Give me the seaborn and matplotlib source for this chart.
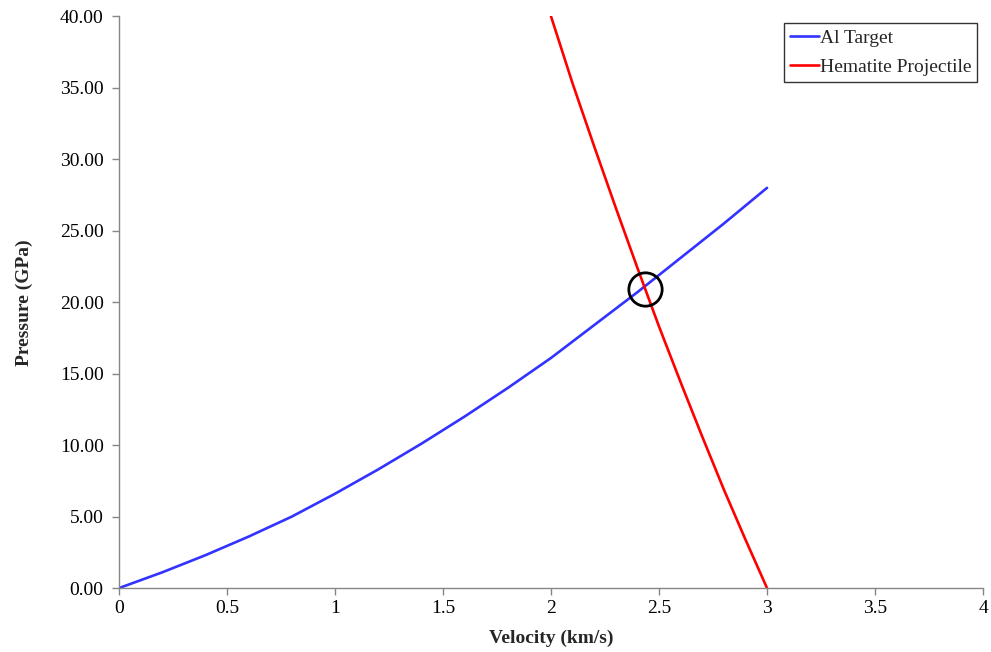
import numpy as np
import pandas as pd
import seaborn as sns
import matplotlib.pyplot as plt
from matplotlib.ticker import FormatStrFormatter, FuncFormatter

# values
al_velocity = [0.0, 0.2, 0.4, 0.6, 0.8, 1.0, 1.2, 1.4, 1.6, 1.8, 2.0, 2.2, 2.4, 2.6, 2.8, 3.0]
al_pressure = [0.0, 1.1, 2.3, 3.6, 5.0, 6.6, 8.3, 10.1, 12.0, 14.0, 16.1, 18.4, 20.7, 23.1, 25.5, 28.0]

hem_velocity = [2.0, 2.1, 2.2, 2.3, 2.4, 2.5, 2.6, 2.7, 2.8, 2.9, 3.0]
hem_pressure = [40.0, 35.3, 30.9, 26.6, 22.4, 18.3, 14.4, 10.6, 6.9, 3.4, 0.0]

cross_point = (2.435, 20.9)

df = pd.concat([
    pd.DataFrame({"Velocity": al_velocity, "Pressure": al_pressure, "Series": "Al Target"}),
    pd.DataFrame({"Velocity": hem_velocity, "Pressure": hem_pressure, "Series": "Hematite Projectile"}),
])

sns.set_theme(style="ticks")
plt.rcParams['font.family'] = ['Liberation Serif', 'DejaVu Serif']

fig = plt.figure(figsize=(9.91, 6.52), dpi=100)
ax = fig.add_axes([0.120, 0.098, 0.872, 0.877])

sns.lineplot(data=df, x="Velocity", y="Pressure", hue="Series",
             palette={"Al Target": "#3333FF", "Hematite Projectile": "#FF0000"},
             estimator=None, sort=False, linewidth=1.9, ax=ax)

# circle around the intersection
ax.plot(*cross_point, marker="o", markersize=24, markerfacecolor="none",
        markeredgecolor="black", markeredgewidth=2.0, zorder=5)

ax.set_xlim(0, 4)
ax.set_ylim(0, 40)
ax.set_xticks(np.arange(0, 4.01, 0.5))
ax.set_yticks(np.arange(0, 40.01, 5))
ax.xaxis.set_major_formatter(FuncFormatter(lambda v, p: f"{v:g}"))
ax.yaxis.set_major_formatter(FormatStrFormatter("%.2f"))
ax.tick_params(labelsize=14, color="#868686", length=5, width=1, labelcolor="black")
ax.tick_params(axis="y", pad=6)

for s in ["top", "right"]:
    ax.spines[s].set_visible(False)
for s in ["left", "bottom"]:
    ax.spines[s].set_color("#868686")
    ax.spines[s].set_linewidth(1)

ax.set_xlabel("Velocity (km/s)", fontsize=14, fontweight="bold", labelpad=9)
ax.set_ylabel("Pressure (GPa)", fontsize=14, fontweight="bold", labelpad=19)

leg = ax.legend(loc="upper right", bbox_to_anchor=(0.993, 0.988), fontsize=14,
                frameon=True, fancybox=False, handlelength=1.5, handletextpad=0.05,
                borderpad=0.3, labelspacing=0.6, borderaxespad=0)
leg.get_frame().set_edgecolor("black")
leg.get_frame().set_linewidth(1)

fig.savefig("out.png", dpi=100)
